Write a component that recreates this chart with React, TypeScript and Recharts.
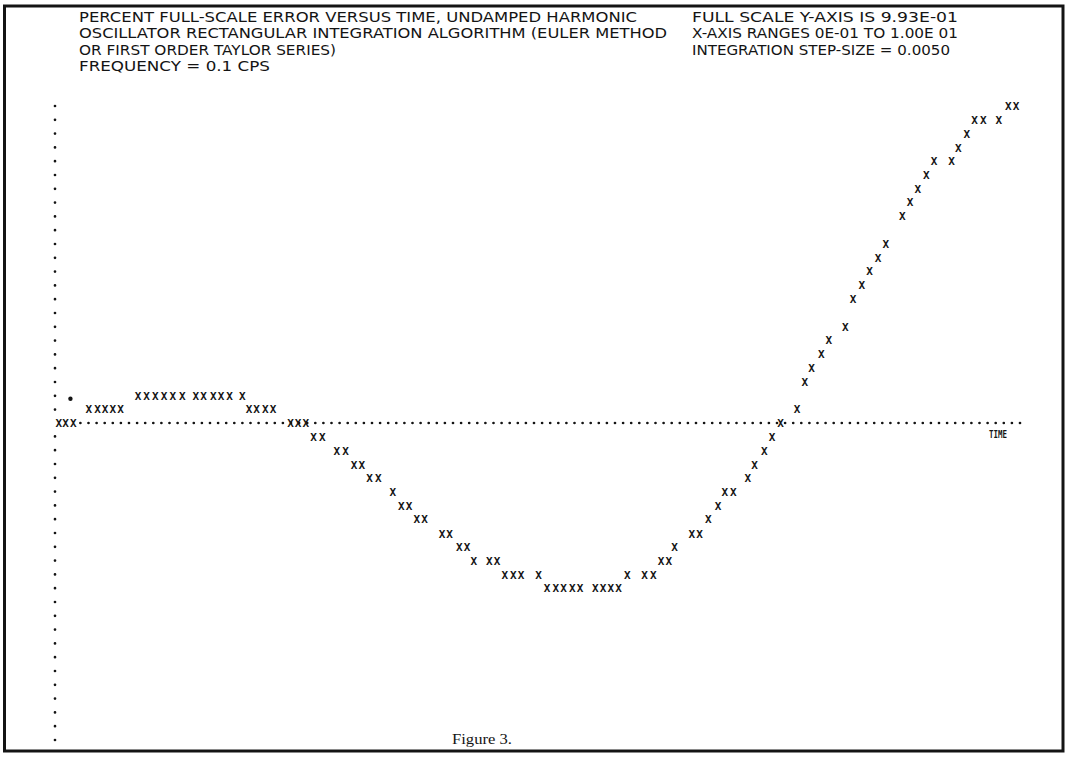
import React from 'react';
import { ScatterChart, Scatter, XAxis, YAxis, ReferenceLine } from 'recharts';

// Time (seconds) of each printed plot mark
const times = [
  0.04, 0.11, 0.19,
  0.35, 0.44, 0.52, 0.60, 0.68,
  0.86, 0.95, 1.04, 1.13, 1.22, 1.32, 1.46, 1.54, 1.64, 1.72, 1.81, 1.94,
  2.01, 2.09, 2.18, 2.26,
  2.44, 2.52, 2.60,
  2.68, 2.77,
  2.92, 3.01,
  3.10, 3.18,
  3.26, 3.35,
  3.50,
  3.59, 3.67,
  3.75, 3.83,
  4.01, 4.09,
  4.19, 4.27,
  4.34, 4.50, 4.58,
  4.66, 4.75, 4.83, 5.01,
  5.10, 5.19, 5.27, 5.36, 5.44, 5.60, 5.68, 5.76, 5.84,
  5.93, 6.11, 6.20,
  6.28, 6.36,
  6.42,
  6.60, 6.68,
  6.77,
  6.87,
  6.94, 7.03,
  7.18,
  7.25,
  7.35,
  7.43,
  7.52,
  7.69,
  7.77,
  7.84,
  7.94,
  8.02,
  8.19,
  8.27,
  8.36,
  8.44,
  8.53,
  8.61,
  8.78,
  8.86,
  8.94,
  9.03,
  9.11, 9.29,
  9.36,
  9.45,
  9.53, 9.62, 9.78,
  9.88, 9.96,
];

// Error value (fraction of full scale units) of each mark
const errors = [
  0, 0, 0,
  0.043, 0.043, 0.043, 0.043, 0.043,
  0.086, 0.086, 0.086, 0.086, 0.086, 0.086, 0.086, 0.086, 0.086, 0.086, 0.086, 0.086,
  0.043, 0.043, 0.043, 0.043,
  0, 0, 0,
  -0.043, -0.043,
  -0.086, -0.086,
  -0.13, -0.13,
  -0.173, -0.173,
  -0.216,
  -0.259, -0.259,
  -0.302, -0.302,
  -0.346, -0.346,
  -0.389, -0.389,
  -0.432, -0.432, -0.432,
  -0.475, -0.475, -0.475, -0.475,
  -0.518, -0.518, -0.518, -0.518, -0.518, -0.518, -0.518, -0.518, -0.518,
  -0.475, -0.475, -0.475,
  -0.432, -0.432,
  -0.389,
  -0.346, -0.346,
  -0.302,
  -0.259,
  -0.216, -0.216,
  -0.173,
  -0.13,
  -0.086,
  -0.043,
  0,
  0.043,
  0.13,
  0.173,
  0.216,
  0.259,
  0.302,
  0.389,
  0.432,
  0.475,
  0.518,
  0.561,
  0.648,
  0.691,
  0.734,
  0.777,
  0.82, 0.82,
  0.863,
  0.907,
  0.95, 0.95, 0.95,
  0.993, 0.993,
];

const strayTimes = [0.16];
const strayErrors = [0.076];

const titleLines = [
  'PERCENT FULL-SCALE ERROR VERSUS TIME, UNDAMPED HARMONIC',
  'OSCILLATOR RECTANGULAR INTEGRATION ALGORITHM (EULER METHOD',
  'OR FIRST ORDER TAYLOR SERIES)',
  'FREQUENCY = 0.1 CPS',
];
const titleWidths = [558, 588, 257, 191];

const infoLines = [
  'FULL SCALE Y-AXIS IS 9.93E-01',
  'X-AXIS RANGES 0E-01 TO 1.00E 01',
  'INTEGRATION STEP-SIZE = 0.0050',
];
const infoWidths = [266, 266, 258];

const FULL_SCALE = 0.993;
const T_MAX = 10;
const AXIS_LABEL = 'TIME';
const CAPTION = 'Figure 3.';

const marks = times.map((t, i) => ({ t, e: errors[i] }));
const stray = strayTimes.map((t, i) => ({ t, e: strayErrors[i] }));

const INK = '#141414';

const XMark = (props: any) => {
  const { cx, cy } = props;
  if (cx == null || cy == null) return <g />;
  return (
    <text
      x={cx}
      y={cy}
      dy="0.37em"
      textAnchor="middle"
      fontFamily="'DejaVu Sans Mono', monospace"
      fontWeight="bold"
      fontSize={11}
      fill={INK}
    >
      X
    </text>
  );
};

const DotMark = (props: any) => {
  const { cx, cy } = props;
  if (cx == null || cy == null) return <g />;
  return <circle cx={cx} cy={cy} r={2.2} fill={INK} />;
};

export default function App() {
  return (
    <div
      style={{
        position: 'absolute',
        left: 0,
        top: 0,
        width: 1068,
        height: 757,
        background: '#fff',
      }}
    >
      <ScatterChart
        width={1068}
        height={757}
        margin={{ top: 106, right: 48, bottom: 17, left: 55 }}
      >
        <XAxis type="number" dataKey="t" domain={[0, T_MAX]} hide />
        <YAxis type="number" dataKey="e" domain={[-FULL_SCALE, FULL_SCALE]} hide />
        <ReferenceLine
          segment={[{ x: T_MAX, y: 0 }, { x: 0.22, y: 0 }]}
          stroke={INK}
          strokeWidth={2.7}
          strokeLinecap="round"
          strokeDasharray="0 8.1"
          ifOverflow="visible"
        />
        <ReferenceLine
          segment={[{ x: 0, y: FULL_SCALE }, { x: 0, y: 0.03 }]}
          stroke={INK}
          strokeWidth={2.7}
          strokeLinecap="round"
          strokeDasharray="0 13.8"
          ifOverflow="visible"
        />
        <ReferenceLine
          segment={[{ x: 0, y: -FULL_SCALE }, { x: 0, y: -0.03 }]}
          stroke={INK}
          strokeWidth={2.7}
          strokeLinecap="round"
          strokeDasharray="0 13.8"
          ifOverflow="visible"
        />
        <Scatter data={marks} shape={XMark} isAnimationActive={false} />
        <Scatter data={stray} shape={DotMark} isAnimationActive={false} />
      </ScatterChart>
      <svg
        width={1068}
        height={757}
        style={{ position: 'absolute', left: 0, top: 0, pointerEvents: 'none' }}
      >
        <rect x={4.5} y={6} width={1058.5} height={745} fill="none" stroke={INK} strokeWidth={3} />
        {titleLines.map((s, i) => (
          <text
            key={s}
            x={79}
            y={22 + i * 16.3}
            textLength={titleWidths[i]}
            lengthAdjust="spacingAndGlyphs"
            fontFamily="'DejaVu Sans', sans-serif"
            fontSize={13.5}
            fill={INK}
          >
            {s}
          </text>
        ))}
        {infoLines.map((s, i) => (
          <text
            key={s}
            x={692}
            y={22 + i * 16.3}
            textLength={infoWidths[i]}
            lengthAdjust="spacingAndGlyphs"
            fontFamily="'DejaVu Sans', sans-serif"
            fontSize={13.5}
            fill={INK}
          >
            {s}
          </text>
        ))}
        <text
          x={989}
          y={438}
          textLength={18}
          lengthAdjust="spacingAndGlyphs"
          fontFamily="'DejaVu Sans Mono', monospace"
          fontWeight="bold"
          fontSize={10}
          fill={INK}
        >
          {AXIS_LABEL}
        </text>
        <text
          x={452}
          y={744}
          textLength={60}
          lengthAdjust="spacingAndGlyphs"
          fontFamily="'Liberation Serif', serif"
          fontSize={15}
          fill={INK}
        >
          {CAPTION}
        </text>
      </svg>
    </div>
  );
}
